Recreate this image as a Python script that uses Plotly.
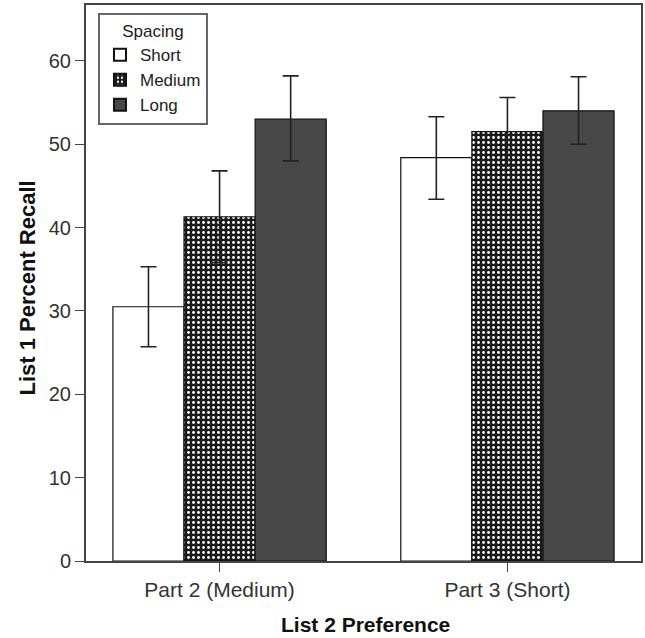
import plotly.graph_objects as go

categories = ["Part 2 (Medium)", "Part 3 (Short)"]
series_names = ["Short", "Medium", "Long"]
means = {
    "Short": [30.5, 48.4],
    "Medium": [41.3, 51.5],
    "Long": [53.0, 54.0],
}
err_upper = {
    "Short": [35.3, 53.3],
    "Medium": [46.8, 55.6],
    "Long": [58.2, 58.1],
}
err_lower = {
    "Short": [25.7, 43.4],
    "Medium": [35.8, 47.4],
    "Long": [48.0, 50.0],
}
y_ticks = [0, 10, 20, 30, 40, 50, 60]

FONT = "Arial, Liberation Sans, sans-serif"

styles = {
    "Short": dict(color="white"),
    "Medium": dict(color="white", pattern=dict(shape=".", bgcolor="#1a1a1a", fgcolor="white",
                                               size=5, solidity=0.25, fillmode="replace")),
    "Long": dict(color="#484848"),
}

fig = go.Figure()
for name in series_names:
    m = means[name]
    plus = [u - v for u, v in zip(err_upper[name], m)]
    minus = [v - l for v, l in zip(m, err_lower[name])]
    fig.add_trace(go.Bar(
        name=name, x=categories, y=m,
        marker=dict(line=dict(color="#111111", width=1.2), **styles[name]),
        error_y=dict(type="data", symmetric=False, array=plus, arrayminus=minus,
                     color="#222222", thickness=1.6, width=8),
    ))

fig.update_layout(
    width=645, height=638, autosize=False,
    margin=dict(l=86, r=4, t=5, b=77, autoexpand=False),
    paper_bgcolor="white", plot_bgcolor="white",
    barmode="group", bargap=0.259, bargroupgap=0,
    font=dict(family=FONT, color="#333333", size=20),
    legend=dict(
        x=0.0216, y=0.9856, xanchor="left", yanchor="top",
        bgcolor="white", bordercolor="#666666", borderwidth=2,
        font=dict(family=FONT, size=17, color="#222222"),
        title=dict(text="Spacing", side="top center", font=dict(family=FONT, size=17, color="#222222")),
        itemsizing="constant", tracegroupgap=0,
    ),
    showlegend=True,
    annotations=[
        dict(text="<b>List 2 Preference</b>", xref="paper", yref="paper", x=0.503, y=-0.115,
             xanchor="center", yanchor="middle", showarrow=False,
             font=dict(family=FONT, size=21, color="#111111")),
        dict(text="<b>List 1 Percent Recall</b>", xref="paper", yref="paper", x=-0.1045, y=0.49,
             xanchor="center", yanchor="middle", showarrow=False, textangle=-90,
             font=dict(family=FONT, size=22, color="#111111")),
    ],
)

fig.update_xaxes(
    type="category", range=[-0.464, 1.464], automargin=False,
    showline=True, linecolor="#444444", linewidth=2, mirror=True,
    ticks="outside", ticklen=9, tickwidth=1.2, tickcolor="#444444",
    tickfont=dict(family=FONT, size=21, color="#333333"),
    showgrid=False,
)
fig.update_yaxes(
    range=[0, 66.7], tickvals=y_ticks, automargin=False,
    showline=True, linecolor="#444444", linewidth=2, mirror=True,
    ticks="outside", ticklen=9, tickwidth=1.2, tickcolor="#444444",
    tickfont=dict(family=FONT, size=20, color="#333333"),
    showgrid=False, zeroline=False,
)

fig.write_html(
    "out.html",
    config={"responsive": False, "displayModeBar": False},
    post_script="document.body.style.margin='0px';document.body.style.padding='0px';"
                "document.documentElement.style.overflow='hidden';",
)
